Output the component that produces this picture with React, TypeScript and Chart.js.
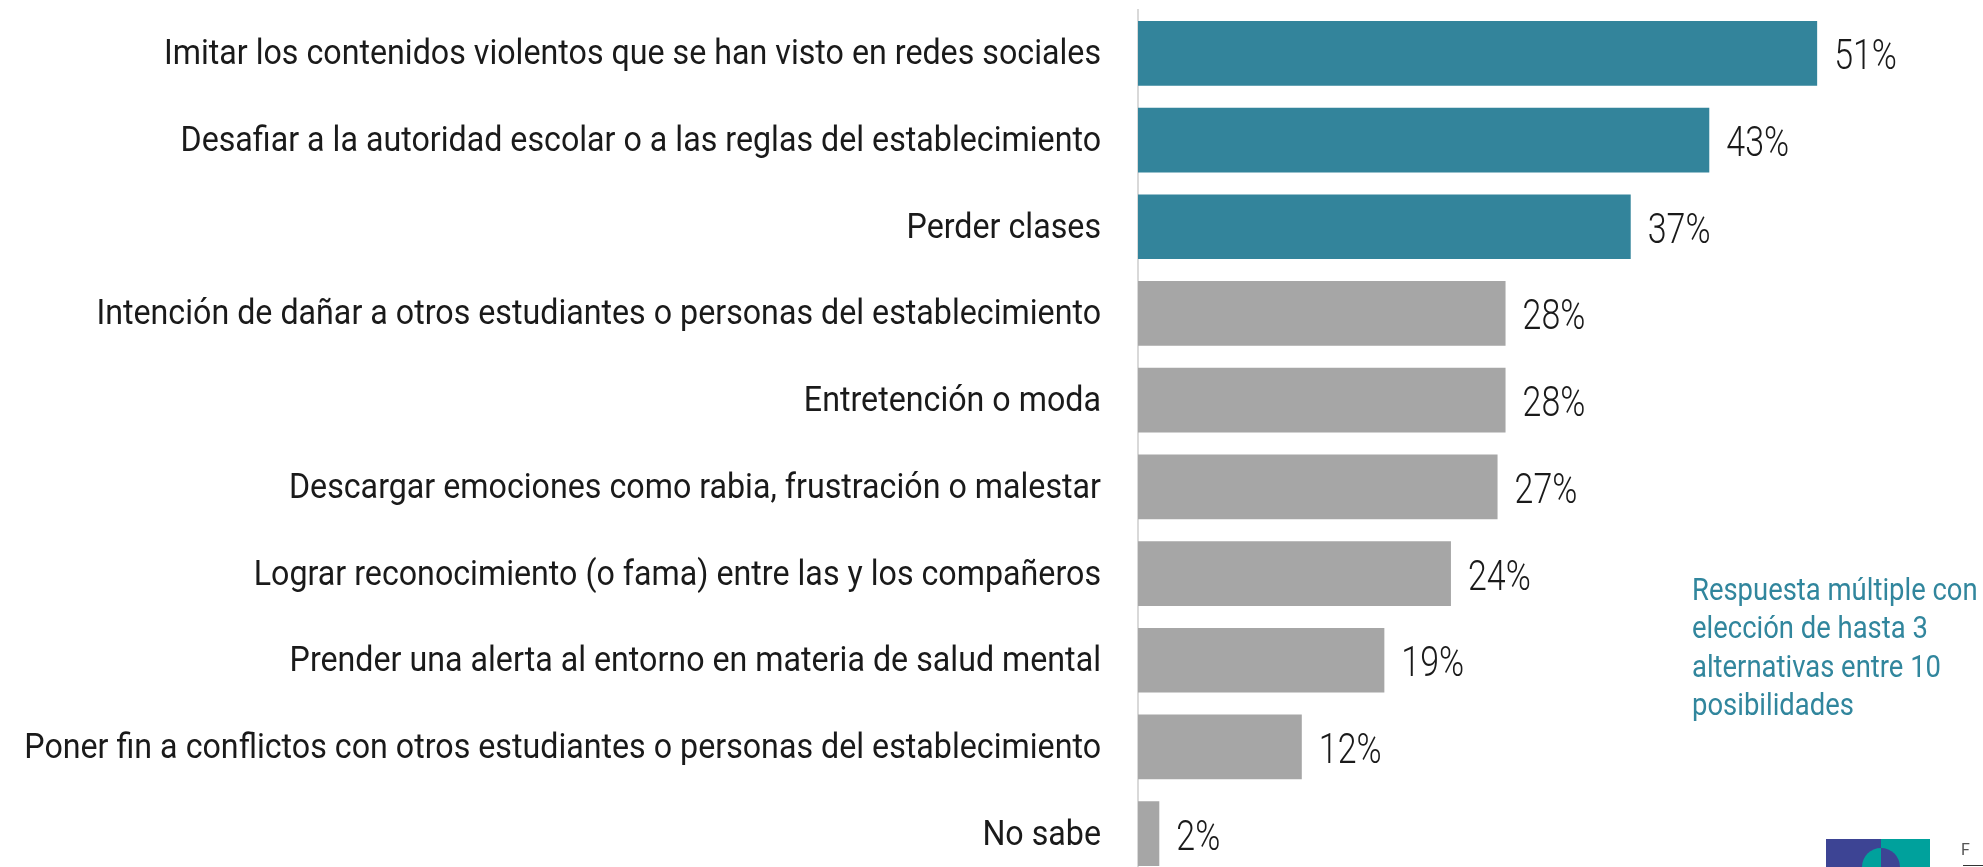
import React, { useEffect, useRef } from "react";
import { Chart, registerables } from "chart.js";

Chart.register(...registerables);

const categories: string[] = [
  "Imitar los contenidos violentos que se han visto en redes sociales",
  "Desafiar a la autoridad escolar o a las reglas del establecimiento",
  "Perder clases",
  "Intención de dañar a otros estudiantes o personas del establecimiento",
  "Entretención o moda",
  "Descargar emociones como rabia, frustración o malestar",
  "Lograr reconocimiento (o fama) entre las y los compañeros",
  "Prender una alerta al entorno en materia de salud mental",
  "Poner fin a conflictos con otros estudiantes o personas del establecimiento",
  "No sabe",
];

const values: number[] = [51, 42.9, 37, 27.6, 27.6, 27, 23.5, 18.5, 12.3, 1.6];

const valueLabels: string[] = ["51%", "43%", "37%", "28%", "28%", "27%", "24%", "19%", "12%", "2%"];

const highlighted: boolean[] = [true, true, true, false, false, false, false, false, false, false];

const noteLines: string[] = [
  "Respuesta múltiple con",
  "elección de hasta 3",
  "alternativas entre 10",
  "posibilidades",
];

const TEAL = "#33849b";
const GRAY = "#a6a6a6";
const TEXT = "#1a1a1a";

const labelsPlugin = {
  id: "customLabels",
  afterDatasetsDraw(chart: any) {
    const ctx = chart.ctx as CanvasRenderingContext2D;
    const xs = chart.scales.x;
    const ys = chart.scales.y;
    const left = chart.chartArea.left;
    ctx.save();
    categories.forEach((cat, i) => {
      const cy = ys.getPixelForValue(i);
      ctx.save();
      ctx.font = "400 35px Roboto";
      ctx.fillStyle = TEXT;
      ctx.textAlign = "right";
      ctx.textBaseline = "alphabetic";
      ctx.translate(left - 37, cy + 11);
      ctx.scale(0.92, 1);
      ctx.fillText(cat, 0, 0);
      ctx.restore();

      const bx = xs.getPixelForValue(values[i]);
      ctx.save();
      ctx.font = "300 43px Roboto";
      ctx.fillStyle = TEXT;
      ctx.textAlign = "left";
      ctx.textBaseline = "alphabetic";
      ctx.translate(bx + 17, cy + 16);
      ctx.scale(0.79, 1);
      ctx.fillText(valueLabels[i], 0, 0);
      ctx.restore();
    });

    ctx.save();
    ctx.font = "400 31px Roboto";
    ctx.fillStyle = "#31869d";
    ctx.textAlign = "left";
    ctx.textBaseline = "alphabetic";
    noteLines.forEach((line, k) => {
      ctx.save();
      ctx.translate(1692, 600 + k * 38.3);
      ctx.scale(0.885, 1);
      ctx.fillText(line, 0, 0);
      ctx.restore();
    });
    ctx.restore();
    ctx.restore();
  },
};

function BarChart() {
  const ref = useRef<HTMLCanvasElement | null>(null);
  useEffect(() => {
    if (!ref.current) return;
    const chart = new Chart(ref.current, {
      type: "bar",
      data: {
        labels: categories,
        datasets: [
          {
            data: values,
            backgroundColor: highlighted.map((h) => (h ? TEAL : GRAY)),
            borderWidth: 0,
            barPercentage: 0.746,
            categoryPercentage: 1,
          },
        ],
      },
      options: {
        indexAxis: "y",
        responsive: false,
        animation: false,
        layout: { padding: { left: 1138, right: 46, top: 10, bottom: 4 } },
        plugins: {
          legend: { display: false },
          tooltip: { enabled: false },
        },
        scales: {
          x: { display: false, min: 0, max: 60 },
          y: {
            display: true,
            grid: { display: false, drawTicks: false },
            ticks: { display: false },
            border: { display: true, color: "#d9d9d9", width: 2 },
          },
        },
      },
      plugins: [labelsPlugin],
    });
    return () => chart.destroy();
  }, []);
  return <canvas ref={ref} width={1983} height={881} style={{ display: "block" }} />;
}

export default function App() {
  return (
    <div
      style={{
        position: "fixed",
        left: 0,
        top: 0,
        width: 1983,
        height: 867,
        overflow: "hidden",
        background: "#ffffff",
      }}
    >
      <BarChart />
      <div style={{ position: "absolute", left: 1826, top: 839, width: 55, height: 40, background: "#3d4494" }} />
      <div style={{ position: "absolute", left: 1881, top: 839, width: 49, height: 40, background: "#00a19c" }} />
      <div
        style={{
          position: "absolute",
          left: 1862,
          top: 848,
          width: 38,
          height: 38,
          borderRadius: "50%",
          background: "linear-gradient(90deg, #00a19c 50%, #3d4494 50%)",
        }}
      />
      <div
        style={{
          position: "absolute",
          left: 1961,
          top: 840,
          fontFamily: "Roboto",
          fontSize: 16,
          color: "#555555",
        }}
      >
        F
      </div>
      <div style={{ position: "absolute", left: 1963, top: 865, width: 20, height: 1, background: "#333333" }} />
    </div>
  );
}
